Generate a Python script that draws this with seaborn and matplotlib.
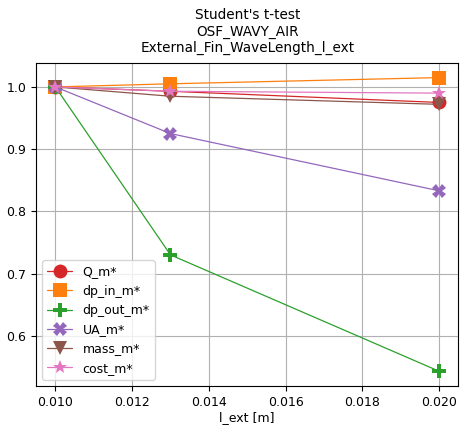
import matplotlib
matplotlib.use("Agg")
import matplotlib.pyplot as plt
import seaborn as sns
import pandas as pd

l_ext = [0.010, 0.013, 0.020]
Q_m = [1.000, 0.993, 0.975]
dp_in_m = [1.000, 1.005, 1.015]
dp_out_m = [1.000, 0.730, 0.543]
UA_m = [1.000, 0.925, 0.833]
mass_m = [1.000, 0.985, 0.972]
cost_m = [1.000, 0.993, 0.990]

series = {
    "Q_m*": Q_m,
    "dp_in_m*": dp_in_m,
    "dp_out_m*": dp_out_m,
    "UA_m*": UA_m,
    "mass_m*": mass_m,
    "cost_m*": cost_m,
}
markers = ["o", "s", "P", "X", "v", "*"]
colors = sns.color_palette("tab10")
colors = [colors[3], colors[1], colors[2], colors[4], colors[5], colors[6]]

sns.set_style("ticks", {"axes.edgecolor": "black", "text.color": "black",
                        "axes.labelcolor": "black", "xtick.color": "black",
                        "ytick.color": "black"})
plt.rcParams["font.family"] = ["DejaVu Sans"]
fig, ax = plt.subplots(figsize=(4.7, 4.25), dpi=100)

for (name, vals), m, c in zip(series.items(), markers, colors):
    df = pd.DataFrame({"l_ext": l_ext, "val": vals})
    sns.lineplot(data=df, x="l_ext", y="val", ax=ax, marker=m, markersize=10,
                 color=c, linewidth=0.9, markeredgewidth=0, label=name)

ax.grid(True, color="#b0b0b0", linewidth=0.8)
ax.set_xlabel("l_ext [m]", fontsize=9, labelpad=2)
ax.set_ylabel("")
ax.tick_params(labelsize=9)
ax.set_xticks([0.010, 0.012, 0.014, 0.016, 0.018, 0.020])
ax.set_yticks([0.6, 0.7, 0.8, 0.9, 1.0])
ax.set_title("Student's t-test\nOSF_WAVY_AIR\nExternal_Fin_WaveLength_l_ext",
             fontsize=9.8, pad=8)
ax.legend(loc="lower left", fontsize=9)
fig.subplots_adjust(left=0.077, right=0.975, top=0.852, bottom=0.092)
fig.savefig("out.png", dpi=100)
